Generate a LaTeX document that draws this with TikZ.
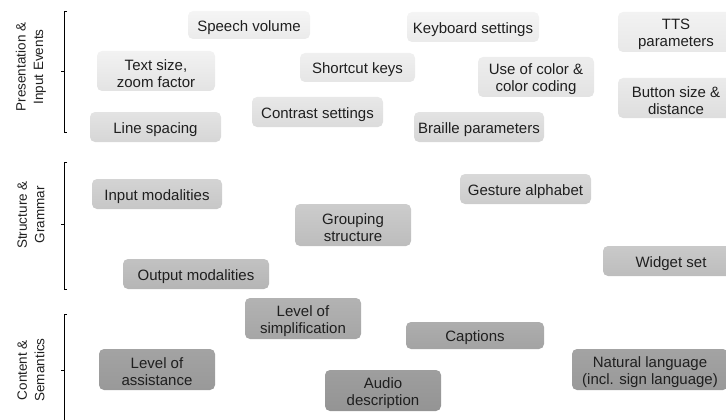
\documentclass[tikz,border=0pt]{standalone}
\usepackage{fontspec}
\setmainfont{Liberation Sans}
\newcommand\bxstrut{\rule{0pt}{16pt}}
\begin{document}
\begin{tikzpicture}[x=1pt,y=-1pt,
  gbox/.style n args={2}{rounded corners=5pt, top color=white!#1!black, bottom color=white!#2!black,
    draw=none, inner sep=0pt, align=center, font=\fontsize{15}{17}\selectfont, text=black!88},
  axlabel/.style={rotate=90, align=center, font=\fontsize{13.5}{17.5}\selectfont, text=black!88},
  brack/.style={draw=black, line width=0.8pt}]
\useasboundingbox (0,0) rectangle (726,420);
\clip (0,0) rectangle (726,420);
% Presentation & Input Events
\node[gbox={96}{92}, minimum width=122pt, minimum height=28pt] (sv) at (249,25) {\bxstrut Speech volume};
\node[gbox={96}{92}, minimum width=132pt, minimum height=30pt] (kb) at (473,27) {\bxstrut Keyboard settings};
\node[gbox={95}{91}, minimum width=116pt, minimum height=40pt] (tts) at (676,32) {\bxstrut TTS\\parameters};
\node[gbox={95}{89}, minimum width=118pt, minimum height=40pt] (ts) at (156,71) {\bxstrut Text size,\\zoom factor};
\node[gbox={94}{90}, minimum width=115pt, minimum height=29pt] (sk) at (357.5,67.5) {\bxstrut Shortcut keys};
\node[gbox={93}{89}, minimum width=116pt, minimum height=40pt] (uc) at (536,77) {\bxstrut Use of color \&\\color coding};
\node[gbox={92}{87}, minimum width=116pt, minimum height=40pt] (bs) at (676,98) {\bxstrut Button size \&\\distance};
\node[gbox={91}{86}, minimum width=131pt, minimum height=30pt] (cs) at (317.5,112) {\bxstrut Contrast settings};
\node[gbox={89}{84}, minimum width=131pt, minimum height=30pt] (ls) at (155.5,127) {\bxstrut Line spacing};
\node[gbox={89}{84}, minimum width=130pt, minimum height=30pt] (bp) at (479,127) {\bxstrut Braille parameters};
% Structure & Grammar
\node[gbox={85}{80}, minimum width=131pt, minimum height=30pt] (ga) at (525.5,189) {\bxstrut Gesture alphabet};
\node[gbox={83}{78}, minimum width=130pt, minimum height=30pt] (im) at (157,194) {\bxstrut Input modalities};
\node[gbox={80}{74}, minimum width=116pt, minimum height=42pt] (gs) at (353,225) {\bxstrut Grouping\\structure};
\node[gbox={79}{74}, minimum width=136pt, minimum height=30pt] (ws) at (671,261) {\bxstrut Widget set};
\node[gbox={76}{71}, minimum width=146pt, minimum height=30pt] (om) at (196,274) {\bxstrut Output modalities};
% Content & Semantics
\node[gbox={70}{65}, minimum width=116pt, minimum height=41pt] (lsim) at (303,318.5) {\bxstrut Level of\\simplification};
\node[gbox={68}{64}, minimum width=138pt, minimum height=27pt] (cap) at (475,335.5) {\bxstrut Captions};
\node[gbox={64}{60}, minimum width=116pt, minimum height=41pt] (la) at (157,369.5) {\bxstrut Level of\\assistance};
\node[gbox={64}{60}, minimum width=156pt, minimum height=41pt] (nl) at (650,369.5) {\bxstrut Natural language\\(incl. sign language)};
\node[gbox={62}{58}, minimum width=116pt, minimum height=41pt] (ad) at (383,390.5) {\bxstrut Audio\\description};
% axis labels
\node[axlabel] (l1) at (31,67) {Presentation \&\\Input Events};
\node[axlabel] (l2) at (31,215) {Structure \&\\Grammar};
\node[axlabel] (l3) at (31,370) {Content \&\\Semantics};
% brackets
\coordinate (b1t) at (64,11); \coordinate (b1b) at (64,132); \coordinate (b1m) at (64,71);
\coordinate (b2t) at (64,162); \coordinate (b2b) at (64,289); \coordinate (b2m) at (64,224);
\coordinate (b3t) at (64,314); \coordinate (b3b) at (64,430); \coordinate (b3m) at (64,370);
\draw[brack] ([xshift=3pt]b1t) -- (b1t) -- (b1b) -- ([xshift=3pt]b1b);
\draw[brack] ([xshift=-3pt]b1m) -- (b1m);
\draw[brack] ([xshift=3pt]b2t) -- (b2t) -- (b2b) -- ([xshift=3pt]b2b);
\draw[brack] ([xshift=-3pt]b2m) -- (b2m);
\draw[brack] ([xshift=3pt]b3t) -- (b3t) -- (b3b);
\draw[brack] ([xshift=-3pt]b3m) -- (b3m);
\end{tikzpicture}
\end{document}
